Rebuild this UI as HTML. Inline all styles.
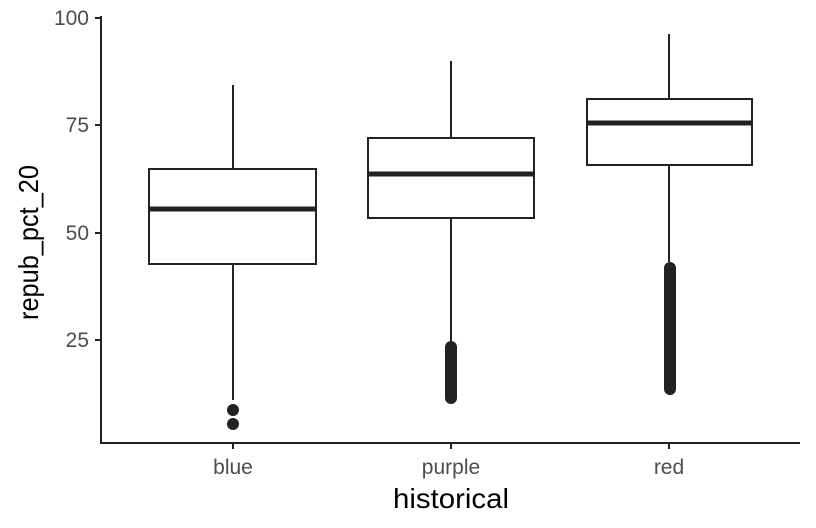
<html><body style="margin:0;background:#fff">
<svg width="816" height="528" xmlns="http://www.w3.org/2000/svg" font-family="Liberation Sans, sans-serif">
<g stroke="#222" stroke-width="2" fill="none">
<line x1="101" y1="16" x2="101" y2="444"/>
<line x1="100" y1="443" x2="800" y2="443"/>
<line x1="95" y1="18" x2="101" y2="18"/><line x1="95" y1="125" x2="101" y2="125"/>
<line x1="95" y1="233" x2="101" y2="233"/><line x1="95" y1="340" x2="101" y2="340"/>
<line x1="233" y1="443" x2="233" y2="449"/><line x1="451" y1="443" x2="451" y2="449"/><line x1="669" y1="443" x2="669" y2="449"/>
<line x1="233" y1="85" x2="233" y2="169"/><line x1="233" y1="264" x2="233" y2="400"/>
<rect x="149" y="169" width="167" height="95" fill="#fff"/>
<line x1="451" y1="61" x2="451" y2="138"/><line x1="451" y1="218" x2="451" y2="343"/>
<rect x="368" y="138" width="166" height="80" fill="#fff"/>
<line x1="669" y1="34" x2="669" y2="99"/><line x1="669" y1="165" x2="669" y2="262"/>
<rect x="587" y="99" width="165" height="66" fill="#fff"/>
</g>
<g stroke="#222" stroke-width="5">
<line x1="149" y1="209" x2="316" y2="209"/><line x1="368" y1="174" x2="534" y2="174"/><line x1="587" y1="123" x2="752" y2="123"/>
</g>
<g fill="#222"><circle cx="233" cy="410" r="6"/><circle cx="233" cy="424" r="6"/></g>
<g stroke="#222" stroke-width="12" stroke-linecap="round">
<line x1="451" y1="347" x2="451" y2="398"/><line x1="670" y1="268" x2="670" y2="389"/>
</g>
<g fill="#4d4d4d" font-size="21" text-anchor="end">
<text x="89" y="25">100</text><text x="89" y="132">75</text><text x="89" y="240">50</text><text x="89" y="347">25</text>
</g>
<g fill="#4d4d4d" font-size="21" text-anchor="middle">
<text x="233" y="474">blue</text><text x="451" y="474">purple</text><text x="669" y="474">red</text>
</g>
<text x="393" y="508" font-size="28" textLength="116" lengthAdjust="spacingAndGlyphs" fill="#000">historical</text>
<text transform="translate(38,320) rotate(-90)" font-size="28" textLength="155" lengthAdjust="spacingAndGlyphs" fill="#000">repub_pct_20</text>
</svg>
</body></html>
